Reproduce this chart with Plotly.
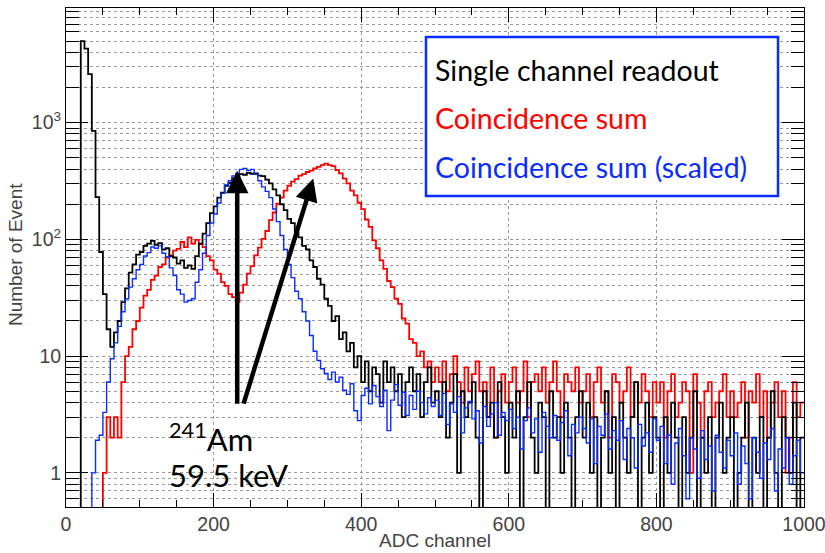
import plotly.graph_objects as go
import numpy as np

# ---------------- data (5-channel bins, 0..1000) ----------------
bin_width = 5
bin_edges = list(range(0, 1001, bin_width))

single_counts = [
    0, 0, 0, 0, 5000, 4300, 2600, 850, 230, 78,
    34, 17, 12, 16, 20, 29, 38, 52, 61, 74,
    78, 88, 92, 97, 90, 93, 82, 84, 72, 70,
    62, 66, 57, 60, 56, 72, 92, 112, 138, 168,
    192, 228, 252, 288, 305, 335, 340, 362, 358, 372,
    365, 368, 352, 348, 325, 302, 268, 238, 200, 178,
    150, 138, 115, 104, 88, 82, 66, 58, 46, 41,
    31, 27, 20, 22, 14, 16, 11, 13, 8, 10,
    6, 9, 5, 8, 7, 4, 9, 6, 8, 5,
    7, 3, 6, 8, 5, 7, 3, 6, 8, 4,
    5, 3, 6, 2, 4, 7, 1, 5, 3, 4, 6, 2, 0, 5, 3, 4, 2, 6, 3, 1,
    4, 2, 5, 0, 3, 6, 2, 1, 4, 3, 0, 5, 2, 3, 1, 4, 2, 0, 3, 5,
    2, 4, 1, 3, 0, 2, 5, 1, 3, 0, 4, 2, 1, 3, 6, 0, 2, 4, 1, 3,
    2, 0, 3, 1, 4, 2, 0, 3, 1, 2, 5, 0, 2, 1, 3, 0, 2, 4, 1, 2,
    3, 0, 1, 2, 4, 0, 2, 1, 3, 0, 2, 5, 1, 0, 3, 2, 1, 4, 0, 2,
]

coinc_counts = [
    0, 0, 0, 0, 0, 0, 0, 0, 0, 0,
    1, 3, 2, 3, 2, 6, 10, 12, 17, 20,
    26, 33, 37, 45, 49, 58, 61, 70, 73, 80,
    83, 95, 86, 104, 92, 99, 91, 86, 72, 66,
    55, 51, 43, 40, 34, 32, 29, 35, 41, 51,
    59, 73, 85, 101, 118, 146, 170, 202, 228, 262,
    288, 312, 328, 352, 362, 378, 388, 405, 418, 432,
    445, 432, 424, 392, 368, 332, 302, 262, 238, 206,
    182, 148, 128, 98, 84, 66, 56, 44, 39, 31,
    28, 21, 19, 14, 13, 10, 11, 8, 9, 6,
    8, 6, 9, 5, 7, 10, 6, 4, 8, 5, 7, 9, 5, 6, 3, 8, 2, 5, 7, 4,
    6, 8, 4, 5, 9, 3, 6, 7, 5, 8, 4, 6, 9, 5, 3, 7, 6, 5, 8, 4,
    5, 7, 3, 6, 8, 4, 5, 2, 7, 6, 4, 5, 8, 3, 6, 4, 7, 5, 3, 6,
    4, 6, 2, 5, 7, 3, 4, 6, 5, 1, 7, 4, 2, 5, 6, 3, 4, 5, 7, 3,
    5, 3, 4, 6, 2, 5, 4, 7, 3, 5, 2, 4, 6, 3, 5, 1, 2, 6, 3, 4,
]

coinc_scaled = [
    0, 0, 0, 0, 0, 0, 0, 1.0, 1.9, 2.1,
    3.3, 6.0, 9.5, 13, 18, 24, 31, 39, 46, 55,
    61, 72, 77, 86, 84, 88, 76, 71, 57, 49,
    37, 34, 29, 30, 31, 43, 55, 76, 108, 138,
    165, 205, 248, 292, 318, 350, 368, 398, 405, 388,
    398, 362, 318, 282, 258, 228, 182, 142, 108, 82,
    61, 47, 36, 31, 24, 20, 15, 11, 9.2, 7.8,
    7.1, 6.3, 7.3, 6.0, 6.6, 5.1, 4.7, 5.8, 3.4, 2.8,
    4.6, 5.3, 3.9, 5.6, 4.5, 3.7, 5.1, 2.3, 4.2, 5.7,
    3.8, 4.9, 3.1, 4.6, 3.5, 5.0, 4.0, 3.2, 4.4, 3.7,
    4.2, 3.1, 4.8, 2.6, 3.9, 3.3, 4.5, 2.2, 3.6, 4.1, 2.9, 3.4, 1.8, 3.7, 2.5, 3.2, 4.0, 2.1, 3.3, 2.8,
    3.5, 2.4, 3.0, 1.6, 2.8, 3.6, 2.2, 2.9, 1.5, 3.3, 2.5, 2.0, 3.1, 1.9, 2.7, 3.4, 1.4, 2.6, 2.2, 3.0,
    2.4, 1.8, 2.9, 1.2, 2.5, 2.1, 3.2, 1.6, 2.3, 1.9, 2.8, 1.3, 2.4, 2.0, 1.1, 2.6, 1.7, 2.2, 1.5, 2.9,
    1.9, 2.5, 1.2, 2.1, 0.8, 1.8, 2.4, 1.4, 0.6, 2.0, 1.6, 0.9, 2.3, 1.3, 1.7, 0.7, 2.1, 1.5, 1.1, 1.9,
    1.4, 2.2, 0.8, 1.7, 1.2, 0.6, 2.0, 1.5, 0.9, 1.8, 1.3, 2.4, 0.7, 1.6, 1.1, 2.0, 0.8, 1.4, 1.9, 1.0,
]

series_names = ["Single channel readout", "Coincidence sum", "Coincidence sum (scaled)"]
series_colors = ["#000000", "#ff0000", "#0a2cff"]

x_major_ticks = [0, 200, 400, 600, 800, 1000]
y_major_ticks = [1, 10, 100, 1000]
y_major_text = ["1", "10", "10<sup>2</sup>", "10<sup>3</sup>"]
y_minor_ticks = [m * d for d in [0.1, 1, 10, 100, 1000] for m in range(2, 10)]
y_min, y_max = 0.51, 9600

# annotation geometry (data units)
arrow_tail_y = 3.8
arrow1 = dict(x0=232, x1=232, y1=388)
arrow2 = dict(x0=240, x1=335, y1=332)

FLOOR = 0.1  # empty bins drawn to the bottom of the log axis


def step_y(vals):
    v = [val if val > 0 else FLOOR for val in vals]
    return v + [v[-1]]


fig = go.Figure()
order = [(coinc_counts, 1), (single_counts, 0), (coinc_scaled, 2)]
widths = {0: 1.8, 1: 1.8, 2: 1.4}
for vals, idx in order:
    fig.add_trace(go.Scatter(
        x=bin_edges, y=step_y(vals), mode="lines",
        line=dict(color=series_colors[idx], width=widths[idx], shape="hv"),
        name=series_names[idx], showlegend=False, hoverinfo="skip",
    ))

axis_font = dict(family="Liberation Sans, Arial, sans-serif", size=19.5, color="#444")
title_font = dict(family="Liberation Sans, Arial, sans-serif", size=19, color="#444")

fig.update_xaxes(
    range=[0, 1000], tickmode="array", tickvals=x_major_ticks,
    ticks="inside", ticklen=14, tickwidth=1, tickcolor="black",
    showline=True, linecolor="black", linewidth=1, mirror="allticks",
    showgrid=True, gridcolor="#9a9a9a", griddash="dot", gridwidth=1,
    zeroline=False, tickfont=axis_font, automargin=False,
    ticklabeloverflow="allow",
    minor=dict(dtick=50, ticks="inside", ticklen=7, tickcolor="black", showgrid=False),
)
fig.update_yaxes(
    type="log", range=[np.log10(y_min), np.log10(y_max)],
    tickmode="array", tickvals=y_major_ticks, ticktext=y_major_text,
    ticks="inside", ticklen=22, tickwidth=1, tickcolor="black",
    showline=True, linecolor="black", linewidth=1, mirror="allticks",
    showgrid=True, gridcolor="#9a9a9a", griddash="dot", gridwidth=1,
    zeroline=False, tickfont=axis_font, automargin=False,
    minor=dict(tickmode="array", tickvals=y_minor_ticks, ticks="inside", ticklen=13,
               tickcolor="black", showgrid=True, gridcolor="#9a9a9a", griddash="dot", gridwidth=1),
)

annotations = [
    dict(text="Number of Event", textangle=-90, xref="paper", yref="paper",
         x=-0.069, y=0.505, xanchor="center", yanchor="middle",
         showarrow=False, font=title_font),
    dict(text="ADC channel", xref="paper", yref="paper", x=0.5006, y=-0.067,
         xanchor="center", yanchor="middle", showarrow=False, font=title_font),
]
# arrows
for a in (arrow1, arrow2):
    annotations.append(dict(
        x=a["x1"], y=np.log10(a["y1"]), ax=a["x0"], ay=np.log10(arrow_tail_y),
        xref="x", yref="y", axref="x", ayref="y", text="", showarrow=True,
        arrowhead=2, arrowsize=1, arrowwidth=4.5, arrowcolor="black", standoff=0,
    ))
label_font = dict(family="Lato, sans-serif", size=31, color="black")
annotations.append(dict(text="<sup>241</sup>Am", xref="paper", yref="paper", x=0.137, y=0.14,
                        xanchor="left", yanchor="middle", showarrow=False, font=label_font))
annotations.append(dict(text="59.5 keV", xref="paper", yref="paper", x=0.137, y=0.064,
                        xanchor="left", yanchor="middle", showarrow=False, font=label_font))
# legend-like text box
leg_y = [0.8758, 0.7796, 0.6814]
for name, col, yy in zip(series_names, series_colors, leg_y):
    annotations.append(dict(text=name, xref="paper", yref="paper", x=0.4973, y=yy,
                            xanchor="left", yanchor="middle", showarrow=False,
                            font=dict(family="Lato, sans-serif", size=28.5, color=col)))

fig.update_layout(
    width=825, height=553,
    margin=dict(l=66, r=21, t=8, b=46, autoexpand=False),
    paper_bgcolor="white", plot_bgcolor="white",
    showlegend=False,
    annotations=annotations,
    shapes=[dict(type="rect", xref="paper", yref="paper", x0=0.4878, x1=0.9648,
                 y0=0.6232, y1=0.9419, line=dict(color="#0a2cff", width=2.5),
                 fillcolor="white", layer="above")],
)

# remove the page's default body margin so the figure sits at the window origin
fig.write_html("out.html", config={"displayModeBar": False},
               post_script="document.body.style.margin='0';")
